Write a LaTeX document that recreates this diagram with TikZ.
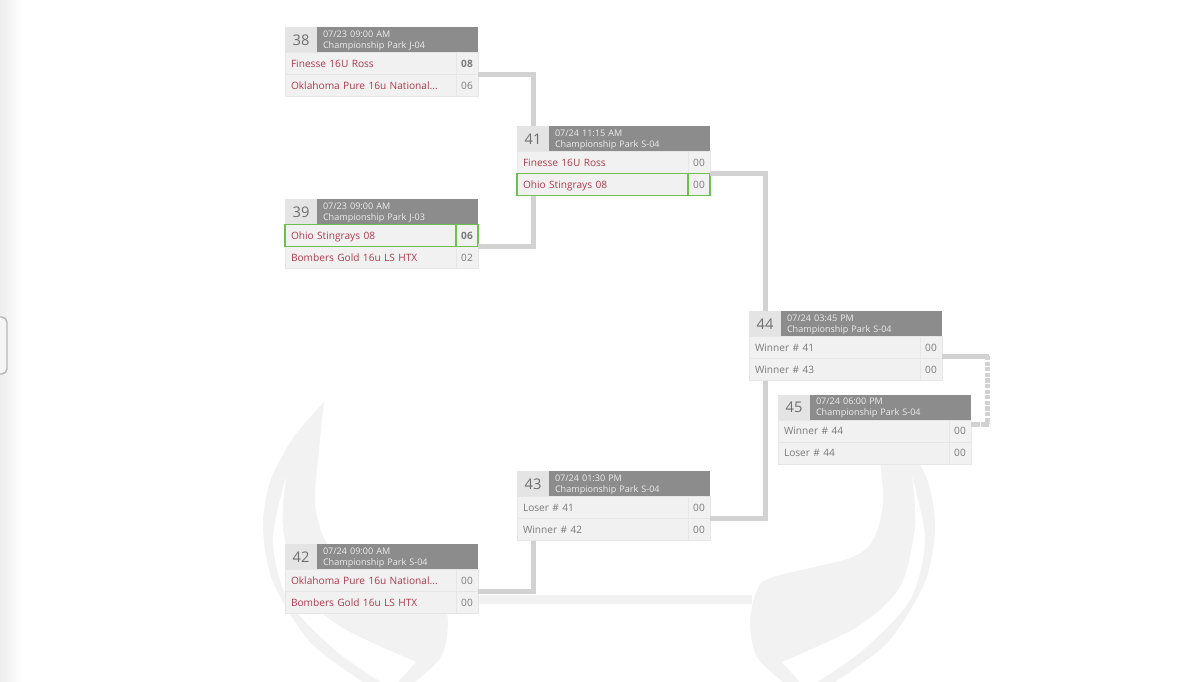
\documentclass[tikz,border=0pt]{standalone}
\usepackage{fontspec}
\setmainfont{Open Sans}
\usetikzlibrary{positioning}
\definecolor{headgrey}{HTML}{8C8C8C}
\definecolor{numgrey}{HTML}{E4E4E4}
\definecolor{rowgrey}{HTML}{F1F1F1}
\definecolor{rowline}{HTML}{E6E6E6}
\definecolor{linkgrey}{HTML}{D2D2D2}
\definecolor{logogrey}{HTML}{F3F2F2}
\definecolor{teamred}{HTML}{AB3A4C}
\definecolor{textgrey}{HTML}{7A7A7A}
\definecolor{pickgreen}{HTML}{6DBF4F}
\tikzset{node distance=0pt,
num/.style={anchor=north west,fill=numgrey,text=textgrey!90!black,minimum width=24pt,minimum height=19.2pt,inner sep=0pt,outer sep=0pt,font=\fontsize{11}{12}\selectfont},
head/.style={fill=headgrey,text=white!93!black,minimum height=19.2pt,text width=111.75pt,inner xsep=4.5pt,inner ysep=0pt,outer sep=0pt,align=left,text height=6.8pt,text depth=10.7pt,font=\fontsize{6.8}{8.2}\selectfont},
team/.style={fill=rowgrey,draw=rowline,line width=.5pt,minimum height=16.5pt,text width=119.25pt,inner xsep=4.5pt,inner ysep=0pt,outer sep=0pt,align=left,text=textgrey,text height=6pt,text depth=.6pt,font=\fontsize{7.6}{10}\selectfont},
score/.style={fill=rowgrey,draw=rowline,line width=.5pt,minimum height=16.5pt,minimum width=16.5pt,inner sep=0pt,outer sep=0pt,text=textgrey,text height=6pt,text depth=.6pt,font=\fontsize{7.6}{10}\selectfont},
red/.style={text=teamred},
picked/.style={draw=pickgreen,line width=1.3pt},
link/.style={draw=linkgrey,line width=3.75pt},
dashlink/.style={link,dash pattern=on 3.2pt off 1pt},
logo/.pic={
\fill[logogrey] plot[smooth] coordinates {(275,402) (306,438) (329,482) (336,528) (326,582) (289,642) (236,682)}
-- plot[smooth] coordinates {(184,682) (158,657) (151,623) (158,590) (174,577) (251,558) (274,540) (284,503) (280,450) (275,402)} -- cycle;
\fill[white] plot[smooth] coordinates {(313,477) (326,540) (311,600) (264,650) (218,682)}
-- (201,682) -- plot[smooth] coordinates {(183,662) (258,627) (301,587) (316,527) (313,477)} -- cycle;
}}
\begin{document}
\begin{tikzpicture}[x=.75pt,y=-.75pt]
\useasboundingbox (0,0) rectangle (1200,682);
\fill[left color=black!7,right color=white] (0,0) rectangle (22,682);
\draw[black!28,fill=black!4,line width=1.1pt,rounded corners=4pt] (-8,317) rectangle (7,374);
\pic at (599,0) {logo};
\pic[xscale=-1] at (599,0) {logo};
\draw[logogrey,line width=7pt] (442,599.5) -- (752,599.5);

\node[num] (num38) at (285,27) {38};
\node[head, right=0pt of num38] (head38) {07/23 09:00 AM\\Championship Park J-04};
\node[team, red, below=0pt of num38.south west, anchor=north west] (team38a) {Finesse 16U Ross};
\node[score, right=0pt of team38a] (score38a) {\textbf{08}};
\node[team, red, below=0pt of team38a] (team38b) {Oklahoma Pure 16u National...};
\node[score, right=0pt of team38b] (score38b) {06};

\node[num] (num39) at (285,199) {39};
\node[head, right=0pt of num39] (head39) {07/23 09:00 AM\\Championship Park J-03};
\node[team, red, below=16.5pt of num39.south west, anchor=north west] (team39b) {Bombers Gold 16u LS HTX};
\node[score, right=0pt of team39b] (score39b) {02};
\node[team, red, picked, above=0pt of team39b] (team39a) {Ohio Stingrays 08};
\node[score, picked, right=0pt of team39a] (score39a) {\textbf{06}};

\node[num] (num41) at (517,126) {41};
\node[head, right=0pt of num41] (head41) {07/24 11:15 AM\\Championship Park S-04};
\node[team, red, below=0pt of num41.south west, anchor=north west] (team41a) {Finesse 16U Ross};
\node[score, right=0pt of team41a] (score41a) {00};
\node[team, red, picked, below=0pt of team41a] (team41b) {Ohio Stingrays 08};
\node[score, picked, right=0pt of team41b] (score41b) {00};

\node[num] (num42) at (285,544) {42};
\node[head, right=0pt of num42] (head42) {07/24 09:00 AM\\Championship Park S-04};
\node[team, red, below=0pt of num42.south west, anchor=north west] (team42a) {Oklahoma Pure 16u National...};
\node[score, right=0pt of team42a] (score42a) {00};
\node[team, red, below=0pt of team42a] (team42b) {Bombers Gold 16u LS HTX};
\node[score, right=0pt of team42b] (score42b) {00};

\node[num] (num43) at (517,471) {43};
\node[head, right=0pt of num43] (head43) {07/24 01:30 PM\\Championship Park S-04};
\node[team, below=0pt of num43.south west, anchor=north west] (team43a) {Loser \# 41};
\node[score, right=0pt of team43a] (score43a) {00};
\node[team, below=0pt of team43a] (team43b) {Winner \# 42};
\node[score, right=0pt of team43b] (score43b) {00};

\node[num] (num44) at (749,311) {44};
\node[head, right=0pt of num44] (head44) {07/24 03:45 PM\\Championship Park S-04};
\node[team, below=0pt of num44.south west, anchor=north west] (team44a) {Winner \# 41};
\node[score, right=0pt of team44a] (score44a) {00};
\node[team, below=0pt of team44a] (team44b) {Winner \# 43};
\node[score, right=0pt of team44b] (score44b) {00};

\node[num] (num45) at (778,394.5) {45};
\node[head, right=0pt of num45] (head45) {07/24 06:00 PM\\Championship Park S-04};
\node[team, below=0pt of num45.south west, anchor=north west] (team45a) {Winner \# 44};
\node[score, right=0pt of team45a] (score45a) {00};
\node[team, below=0pt of team45a] (team45b) {Loser \# 44};
\node[score, right=0pt of team45b] (score45b) {00};

\coordinate (out44) at (942,356);
\coordinate (top45) at (987,356);
\coordinate (low45) at (987,424);
\coordinate (in45) at (971,424);

\draw[link] (score38a.south east) -| (num41.north);
\draw[link] (score39a.south east) -| (num41.center |- team41b.south);
\draw[link] (score41a.south east) -| (num44.north);
\draw[link] (score43a.south east) -| (num44.center |- team44b.south);
\draw[link] (score42a.south east) -| (num43.center |- team43b.south);
\draw[link] (out44) -- ([xshift=1.4pt]top45);
\draw[dashlink] (top45) -- (low45);
\draw[link,dash pattern=on 6.5pt off 1pt] (in45) -- ([xshift=1.4pt]low45);
\end{tikzpicture}
\end{document}
